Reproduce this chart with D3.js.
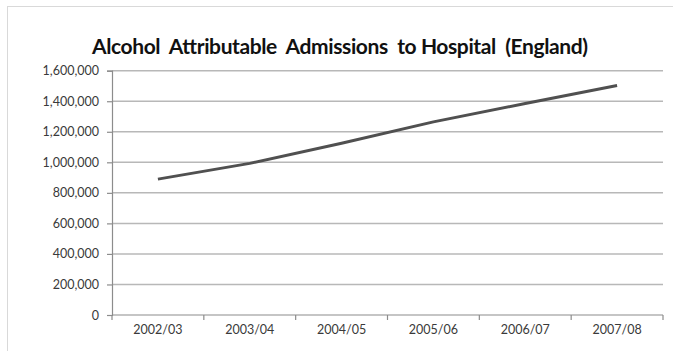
<!DOCTYPE html>
<html>
<head>
<meta charset="utf-8">
<script src="https://cdn.jsdelivr.net/npm/d3@7"></script>
<style>
  html, body { margin: 0; padding: 0; background: #fff; }
  svg { display: block; }
</style>
</head>
<body>
<svg id="chart" width="673" height="351"></svg>
<script>
// Alcohol attributable hospital admissions, England
const years = ["2002/03", "2003/04", "2004/05", "2005/06", "2006/07", "2007/08"];
const admissions = [890000, 993000, 1125000, 1265000, 1385000, 1503000];
const yTicks = [0, 200000, 400000, 600000, 800000, 1000000, 1200000, 1400000, 1600000];
const title = "Alcohol  Attributable  Admissions  to Hospital  (England)";

const svg = d3.select("#chart");
const margin = { left: 112, right: 663, top: 70.7, bottom: 315 };

// chart frame (extends past the right and bottom edges)
svg.append("rect")
  .attr("x", 7.5).attr("y", 6.5)
  .attr("width", 700).attr("height", 400)
  .attr("fill", "#fff")
  .attr("stroke", "#d9d9d9").attr("stroke-width", 1);

const x = d3.scaleBand().domain(years).range([margin.left, margin.right]);
const y = d3.scaleLinear().domain([0, 1600000]).range([margin.bottom, margin.top]);

// horizontal gridlines
svg.append("g")
  .selectAll("line")
  .data(yTicks.filter(d => d > 0))
  .join("line")
  .attr("x1", margin.left).attr("x2", margin.right)
  .attr("y1", d => y(d)).attr("y2", d => y(d))
  .attr("stroke", "#b8b8b8").attr("stroke-width", 1.5);

// y axis
const yAxis = svg.append("g")
  .attr("transform", `translate(${margin.left},0)`)
  .call(d3.axisLeft(y).tickValues(yTicks).tickSize(5).tickPadding(8)
    .tickFormat(d3.format(",")));
yAxis.select(".domain").attr("stroke", "#8c8c8c").attr("stroke-width", 1.2);
yAxis.selectAll(".tick line").attr("stroke", "#8c8c8c").attr("stroke-width", 1.2);
yAxis.selectAll("text")
  .attr("fill", "#3a3a3a")
  .style("font-family", "Lato, 'Open Sans', sans-serif")
  .style("font-size", "12.5px");

// x axis: tick marks at category boundaries, labels centred
const xAxisG = svg.append("g");
xAxisG.append("line")
  .attr("x1", margin.left).attr("x2", margin.right)
  .attr("y1", margin.bottom).attr("y2", margin.bottom)
  .attr("stroke", "#8c8c8c").attr("stroke-width", 1.2);
const boundaries = years.map(d => x(d)).concat([x.range()[1]]);
xAxisG.selectAll("line.tick")
  .data(boundaries)
  .join("line")
  .attr("class", "tick")
  .attr("x1", d => d).attr("x2", d => d)
  .attr("y1", margin.bottom).attr("y2", margin.bottom + 5)
  .attr("stroke", "#8c8c8c").attr("stroke-width", 1.2);
xAxisG.selectAll("text")
  .data(years)
  .join("text")
  .attr("x", d => x(d) + x.bandwidth() / 2)
  .attr("y", 334)
  .attr("text-anchor", "middle")
  .attr("fill", "#3a3a3a")
  .style("font-family", "Lato, 'Open Sans', sans-serif")
  .style("font-size", "12.5px")
  .text(d => d);

// data line
const line = d3.line()
  .x((d, i) => x(years[i]) + x.bandwidth() / 2)
  .y(d => y(d));
svg.append("path")
  .datum(admissions)
  .attr("d", line)
  .attr("fill", "none")
  .attr("stroke", "#505050")
  .attr("stroke-width", 3)
  .attr("stroke-linejoin", "round");

// title
svg.append("text")
  .attr("x", 340).attr("y", 54)
  .attr("text-anchor", "middle")
  .attr("fill", "#111")
  .style("font-family", "Lato, 'Open Sans', sans-serif")
  .style("font-weight", "bold")
  .style("font-size", "21px")
  .style("white-space", "pre")
  .attr("textLength", 496)
  .attr("lengthAdjust", "spacing")
  .text(title);
</script>
</body>
</html>
